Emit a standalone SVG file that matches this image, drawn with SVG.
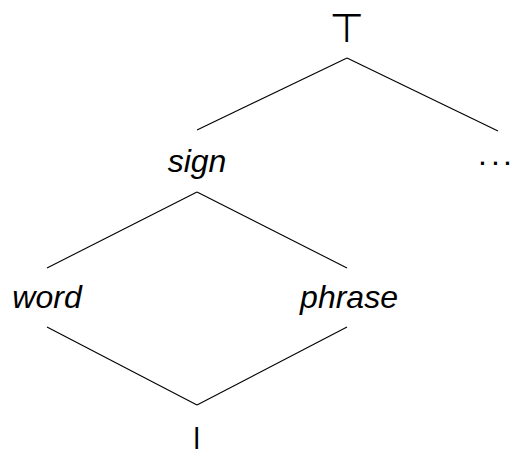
<svg xmlns="http://www.w3.org/2000/svg" width="512" height="449" viewBox="0 0 512 449">
  <style>
    .lbl { font-family: "Liberation Sans", "DejaVu Sans", sans-serif; font-style: italic; font-size: 32px; fill: #000; text-anchor: middle; }
    .dots { font-family: "Liberation Sans", "DejaVu Sans", sans-serif; font-size: 32px; fill: #000; }
    .sym { font-family: "DejaVu Sans", sans-serif; font-size: 40px; fill: #000; text-anchor: middle; }
    .edge { stroke: #000; stroke-width: 1.1; fill: none; }
  </style>
  <rect width="512" height="449" fill="#fff"/>
  <g id="connectors">
    <line class="edge" x1="347" y1="58" x2="197" y2="130"/>
    <line class="edge" x1="347" y1="58" x2="498" y2="131"/>
    <line class="edge" x1="197" y1="192" x2="47" y2="268"/>
    <line class="edge" x1="197" y1="192" x2="347" y2="268"/>
    <line class="edge" x1="47" y1="327" x2="197" y2="405"/>
    <line class="edge" x1="347" y1="327" x2="197" y2="405"/>
  </g>
  <g id="top">
    <text class="sym" x="347" y="42">⊤</text>
  </g>
  <g id="sign">
    <text class="lbl" x="197" y="172">sign</text>
  </g>
  <g id="more">
    <text class="dots" x="478 491 503" y="165">...</text>
  </g>
  <g id="word">
    <text class="lbl" x="47" y="308">word</text>
  </g>
  <g id="phrase">
    <text class="lbl" x="349" y="308">phrase</text>
  </g>
  <g id="bottom">
    <text class="sym" x="197" y="455">⊥</text>
  </g>
</svg>
